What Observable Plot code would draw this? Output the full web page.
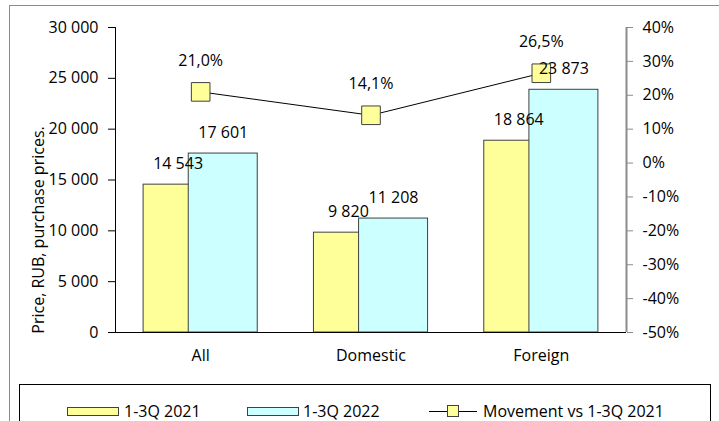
<!DOCTYPE html>
<html><head><meta charset="utf-8">
<script src="https://cdn.jsdelivr.net/npm/d3@7"></script>
<script src="https://cdn.jsdelivr.net/npm/@observablehq/plot@0.6"></script>
<style>
body{margin:0;width:719px;height:421px;overflow:hidden;background:#fff;font-family:"Open Sans",sans-serif;position:relative}
#chart{position:absolute;left:0;top:0}
#frame{position:absolute;left:9px;top:5px;width:730px;height:440px;border:1px solid #8c8c8c;box-sizing:border-box}
#legend{position:absolute;left:19px;top:384px;width:692px;height:60px;border:1px solid #000;box-sizing:border-box;background:#fff;font-size:16px;color:#000}
.sw{position:absolute;top:22px;height:9px;border:1px solid #404040;box-sizing:border-box}
.lt{position:absolute;top:15px;line-height:22px;white-space:nowrap}
.ln{position:absolute;top:26px;height:1px;background:#000}
.mk{position:absolute;top:20px;width:12px;height:12px;border:1px solid #404040;box-sizing:border-box;background:#ffff99}
</style></head><body>
<div id="chart"></div>
<div id="frame"></div>
<div id="legend"></div>
<script>
const categories = ["All", "Domestic", "Foreign"];
const price2021 = [14543, 9820, 18864];
const price2022 = [17601, 11208, 23873];
const movementPct = [21.0, 14.1, 26.5];
const leftTicks = [0, 5000, 10000, 15000, 20000, 25000, 30000];
const rightTicks = [-50, -40, -30, -20, -10, 0, 10, 20, 30, 40];
const seriesNames = ["1-3Q 2021", "1-3Q 2022", "Movement vs 1-3Q 2021"];
const yTitle = "Price, RUB, purchase prices.";
const colors = {y2021: "#ffff99", y2022: "#ccffff"};

const loc = d3.formatLocale({decimal: ",", thousands: " ", grouping: [3], currency: ["", ""], minus: "-"});
const fmtInt = loc.format(",d");
const fmtPct = v => loc.format(".1f")(v) + "%";

// secondary axis mapping: percent domain [-50, 40] onto price domain [0, 30000]
const pMin = rightTicks[0], pMax = rightTicks[rightTicks.length - 1];
const yMax = leftTicks[leftTicks.length - 1];
const pctToY = p => (p - pMin) / (pMax - pMin) * yMax;
const yToPct = y => y / yMax * (pMax - pMin) + pMin;

const rows = categories.map((c, i) => ({i, c, a: price2021[i], b: price2022[i], m: movementPct[i]}));

const chart = Plot.plot({
  width: 719,
  height: 421,
  marginLeft: 115,
  marginRight: 93,
  marginTop: 27,
  marginBottom: 89,
  style: {fontFamily: "Open Sans", fontSize: "16px", color: "#000", background: "transparent"},
  x: {type: "linear", domain: [-0.5, categories.length - 0.5], axis: null},
  y: {domain: [0, yMax], axis: null},
  marks: [
    Plot.rectY(rows, {x1: d => d.i - 0.335, x2: d => d.i + 0.07, y: "a", fill: colors.y2021, stroke: "#404040", strokeWidth: 1}),
    Plot.rectY(rows, {x1: d => d.i - 0.07, x2: d => d.i + 0.335, y: "b", fill: colors.y2022, stroke: "#404040", strokeWidth: 1}),
    Plot.ruleX([-0.5], {stroke: "#000"}),
    Plot.ruleX([categories.length - 0.5], {stroke: "#8c8c8c", strokeWidth: 2}),
    Plot.ruleY([0], {stroke: "#000"}),
    Plot.axisY(leftTicks, {anchor: "left", tickSize: 7, tickPadding: 10, tickFormat: fmtInt, stroke: "#000", label: null}),
    Plot.axisY(rightTicks.map(pctToY), {anchor: "right", tickSize: 6, tickPadding: 10, stroke: "#8c8c8c", tickFormat: v => Math.round(yToPct(v)) + "%", label: null}),
    Plot.axisX(rows.map(d => d.i), {anchor: "bottom", tickSize: 0, tickPadding: 17, tickFormat: i => categories[i], label: null}),
    Plot.line(rows, {x: "i", y: d => pctToY(d.m), stroke: "#000", strokeWidth: 1}),
    Plot.dot(rows, {x: "i", y: d => pctToY(d.m), symbol: "square", r: 10.5, fill: colors.y2021, stroke: "#404040", strokeWidth: 1}),
    Plot.text(rows, {x: "i", y: d => pctToY(d.m), text: d => fmtPct(d.m), dy: -31, lineAnchor: "middle", fill: "#000"}),
    Plot.text(rows, {x: d => d.i - 0.1325, y: "a", text: d => fmtInt(d.a), dy: -21, lineAnchor: "middle", fill: "#000"}),
    Plot.text(rows, {x: d => d.i + 0.1325, y: "b", text: d => fmtInt(d.b), dy: -21, lineAnchor: "middle", fill: "#000"}),
    Plot.text([yTitle], {frameAnchor: "left", rotate: -90, textAnchor: "middle", dx: -77, dy: 50, fill: "#000"})
  ]
});
document.getElementById("chart").appendChild(chart);

// legend
const lg = document.getElementById("legend");
const off = 19;
function add(cls, left, width, extra) {
  const el = document.createElement("div");
  el.className = cls;
  el.style.left = (left - off) + "px";
  if (width != null) el.style.width = width + "px";
  Object.assign(el.style, extra || {});
  lg.appendChild(el);
  return el;
}
add("sw", 66, 52, {background: colors.y2021});
add("lt", 123, null).textContent = seriesNames[0];
add("sw", 246, 52, {background: colors.y2022});
add("lt", 302, null).textContent = seriesNames[1];
add("ln", 428, 48);
add("mk", 446, null);
add("lt", 482, null).textContent = seriesNames[2];
</script>
</body></html>
